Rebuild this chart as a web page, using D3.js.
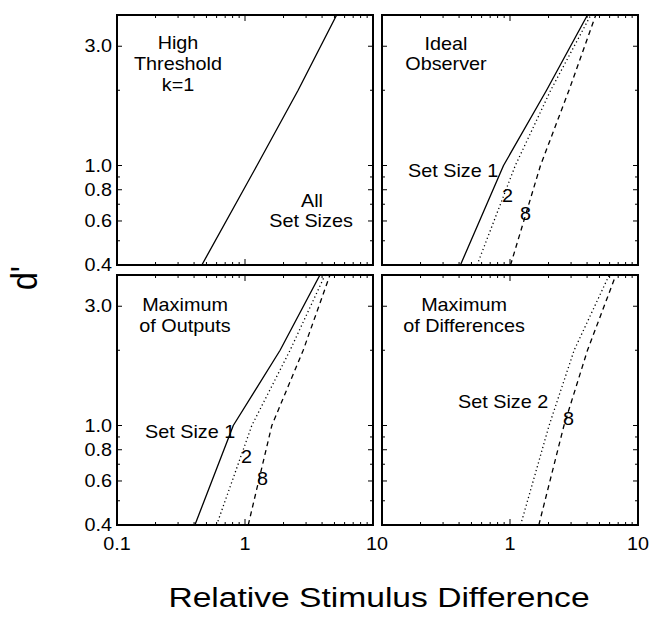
<!DOCTYPE html>
<html>
<head>
<meta charset="utf-8">
<script src="https://cdn.jsdelivr.net/npm/d3@7"></script>
<style>
  body { margin: 0; background: #fff; }
  svg { display: block; }
  text { font-family: "Liberation Sans", Arial, Helvetica, sans-serif; fill: #000; }
</style>
</head>
<body>
<svg id="chart" width="650" height="619"></svg>
<script>
// ---- axis definitions ----
const xDomain = [0.1, 10];
const yDomain = [0.4, 4.0];
const xMajorTicks = [0.1, 1, 10];
const xMinorTicks = [0.2, 0.3, 0.4, 0.5, 0.6, 0.7, 0.8, 0.9, 2, 3, 4, 5, 6, 7, 8, 9];
const yLabelTicks = [0.4, 0.6, 0.8, 1.0, 3.0];
const yLabelText = ["0.4", "0.6", "0.8", "1.0", "3.0"];
const yMinorTicks = [0.5, 0.7, 0.9, 2.0];
const xLabelsLeft = ["0.1", "1", "10"];
const xLabelsRight = ["1", "10"];

// ---- curves: stimulus difference (x) at tabulated d' values ----
const dLevels = [0.4, 1.0, 2.0, 4.0];

const highThresholdX = [0.46, 1.24, 2.6, 5.2];

const idealSize1X = [0.41, 0.89, 1.93, 4.03];
const idealSize2X = [0.553, 1.10, 2.08, 4.28];
const idealSize8X = [1.01, 1.73, 2.89, 4.68];

const maxOutSize1X = [0.406, 0.81, 1.88, 3.85];
const maxOutSize2X = [0.60, 1.13, 2.25, 4.22];
const maxOutSize8X = [1.06, 1.62, 2.85, 4.61];

const maxDiffSize2X = [1.21, 2.02, 3.17, 5.96];
const maxDiffSize8X = [1.68, 2.64, 4.03, 6.72];

// ---- layout ----
const panelW = 256, panelH = 250;
const colX = [117, 382];
const rowY = [15, 275];

const styles = {
  solid:  { dash: null,      width: 1.3 },
  dotted: { dash: "1.2,2.8", width: 1.3 },
  dashed: { dash: "5,4",     width: 1.3 }
};

const zip = xs => xs.map((v, i) => [v, dLevels[i]]);

const panels = [
  { col: 0, row: 0,
    curves: [ { pts: zip(highThresholdX), style: "solid" } ],
    texts: [
      { t: "High", x: 61, y: 34, a: "middle" },
      { t: "Threshold", x: 61, y: 55, a: "middle" },
      { t: "k=1", x: 61, y: 76, a: "middle" },
      { t: "All", x: 195, y: 192, a: "middle" },
      { t: "Set Sizes", x: 194, y: 212, a: "middle" }
    ] },
  { col: 1, row: 0,
    curves: [
      { pts: zip(idealSize1X), style: "solid" },
      { pts: zip(idealSize2X), style: "dotted" },
      { pts: zip(idealSize8X), style: "dashed" }
    ],
    texts: [
      { t: "Ideal", x: 64, y: 35, a: "middle" },
      { t: "Observer", x: 64, y: 55, a: "middle" },
      { t: "Set Size 1", x: 26, y: 162, a: "start" },
      { t: "2", x: 120, y: 187, a: "start" },
      { t: "8", x: 138, y: 205, a: "start" }
    ] },
  { col: 0, row: 1,
    curves: [
      { pts: zip(maxOutSize1X), style: "solid" },
      { pts: zip(maxOutSize2X), style: "dotted" },
      { pts: zip(maxOutSize8X), style: "dashed" }
    ],
    texts: [
      { t: "Maximum", x: 68, y: 36, a: "middle" },
      { t: "of Outputs", x: 68, y: 57, a: "middle" },
      { t: "Set Size 1", x: 28, y: 163, a: "start" },
      { t: "2", x: 124, y: 188, a: "start" },
      { t: "8", x: 140, y: 210, a: "start" }
    ] },
  { col: 1, row: 1,
    curves: [
      { pts: zip(maxDiffSize2X), style: "dotted" },
      { pts: zip(maxDiffSize8X), style: "dashed" }
    ],
    texts: [
      { t: "Maximum", x: 82, y: 36, a: "middle" },
      { t: "of Differences", x: 82, y: 57, a: "middle" },
      { t: "Set Size 2", x: 76, y: 133, a: "start" },
      { t: "8", x: 181, y: 150, a: "start" }
    ] }
];

const svg = d3.select("#chart");
const x = d3.scaleLog().domain(xDomain).range([0, panelW]);
const y = d3.scaleLog().domain(yDomain).range([panelH, 0]);

// text whose glyphs are widened horizontally
function wideText(g, str, px, py, size, sx, anchor) {
  return g.append("text")
    .attr("transform", `translate(${px},${py}) scale(${sx},1)`)
    .attr("text-anchor", anchor)
    .style("font-size", size + "px")
    .text(str);
}

svg.append("defs").append("clipPath").attr("id", "panelClip")
  .append("rect").attr("x", 0).attr("y", 0).attr("width", panelW).attr("height", panelH);

const line = d3.line()
  .x(d => x(d[0]))
  .y(d => y(d[1]))
  .curve(d3.curveLinear);

panels.forEach(p => {
  const g = svg.append("g")
    .attr("transform", `translate(${colX[p.col]},${rowY[p.row]})`);

  // curves
  const cg = g.append("g").attr("clip-path", "url(#panelClip)");
  p.curves.forEach(c => {
    const s = styles[c.style];
    cg.append("path")
      .attr("d", line(c.pts))
      .attr("fill", "none")
      .attr("stroke", "#000")
      .attr("stroke-width", s.width)
      .attr("stroke-linejoin", "round")
      .attr("stroke-dasharray", s.dash);
  });

  // inward ticks on all four edges
  const tg = g.append("g").attr("stroke", "#000").attr("stroke-width", 1);
  const xt = xMajorTicks.map(v => [v, 6]).concat(xMinorTicks.map(v => [v, 3]));
  xt.forEach(([v, len]) => {
    tg.append("line").attr("x1", x(v)).attr("x2", x(v)).attr("y1", panelH).attr("y2", panelH - len);
    tg.append("line").attr("x1", x(v)).attr("x2", x(v)).attr("y1", 0).attr("y2", len);
  });
  const yt = yLabelTicks.map(v => [v, 5]).concat(yMinorTicks.map(v => [v, 3]));
  yt.forEach(([v, len]) => {
    tg.append("line").attr("y1", y(v)).attr("y2", y(v)).attr("x1", 0).attr("x2", len);
    tg.append("line").attr("y1", y(v)).attr("y2", y(v)).attr("x1", panelW).attr("x2", panelW - len);
  });

  // frame
  g.append("rect")
    .attr("width", panelW).attr("height", panelH)
    .attr("fill", "none").attr("stroke", "#000").attr("stroke-width", 2);

  // panel annotations
  p.texts.forEach(t => wideText(g, t.t, t.x, t.y, 18, 1.1, t.a));

  // y tick labels on the left column
  if (p.col === 0) {
    yLabelTicks.forEach((v, i) => {
      wideText(g, yLabelText[i], -5, y(v) + 6, 18, 1.1, "end");
    });
  }

  // x tick labels on the bottom row
  if (p.row === 1) {
    const vals = p.col === 0 ? xMajorTicks : xMajorTicks.slice(1);
    const labs = p.col === 0 ? xLabelsLeft : xLabelsRight;
    vals.forEach((v, i) => {
      const px = (p.col === 0 && v === 10) ? x(v) + 4 : x(v);
      wideText(g, labs[i], px, panelH + 25, 18, 1.1, "middle");
    });
  }
});

// axis titles
wideText(svg, "Relative Stimulus Difference", 379, 607, 28, 1.2, "middle");
svg.append("text")
  .attr("transform", "translate(37,278) scale(1.15,1) rotate(-90)")
  .attr("text-anchor", "middle")
  .style("font-size", "32px")
  .text("d'");
</script>
</body>
</html>
